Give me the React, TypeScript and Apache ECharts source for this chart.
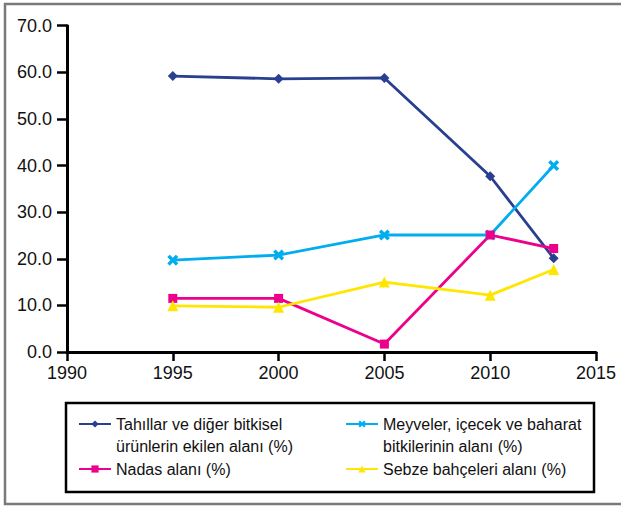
import React, { useEffect, useRef } from "react";
import * as echarts from "echarts";

const years = [1995, 2000, 2005, 2010, 2013];
const tahillar = [59.2, 58.6, 58.8, 37.7, 20.1];
const meyveler = [19.7, 20.8, 25.1, 25.1, 40.0];
const nadas = [11.5, 11.5, 1.7, 25.1, 22.2];
const sebze = [9.9, 9.6, 15.0, 12.2, 17.7];

const names = [
  "Tahıllar ve diğer bitkisel\nürünlerin ekilen alanı (%)",
  "Meyveler, içecek ve baharat\nbitkilerinin alanı (%)",
  "Nadas alanı (%)",
  "Sebze bahçeleri alanı (%)",
];

const FONT = "'Liberation Sans', Arial, sans-serif";
const crossPath =
  "path://M0,2.2L2.2,0L5,2.8L7.8,0L10,2.2L7.2,5L10,7.8L7.8,10L5,7.2L2.2,10L0,7.8L2.8,5Z";

function pair(vals: number[]) {
  return years.map((y, i) => [y, vals[i]]);
}

export default function App() {
  const ref = useRef<HTMLDivElement>(null);
  useEffect(() => {
    document.body.style.margin = "0";
    const chart = echarts.init(ref.current!, null, { renderer: "svg" });
    const legendText = {
      fontFamily: FONT,
      fontSize: 16,
      color: "#111",
      lineHeight: 22,
    };
    const legendBase = {
      orient: "horizontal",
      padding: 0,
      itemWidth: 32,
      itemHeight: 9,
      itemGap: 0,
      selectedMode: false,
      textStyle: legendText,
    };
    // two-line labels: a leading blank line keeps the icon beside the first line
    const twoLine = (n: string) => (n.indexOf("\n") >= 0 ? "\n" + n : n);
    chart.setOption({
      animation: false,
      backgroundColor: "#fff",
      grid: { left: 67, right: 25, top: 25.7, bottom: 154, containLabel: false },
      xAxis: {
        type: "value",
        min: 1990,
        max: 2015,
        interval: 5,
        axisLine: { lineStyle: { color: "#000", width: 3 } },
        axisTick: { show: true, length: 9, lineStyle: { color: "#000", width: 2.5 } },
        splitLine: { show: false },
        axisLabel: {
          fontFamily: FONT,
          fontSize: 18,
          color: "#111",
          margin: 12,
          formatter: (v: number) => String(v),
        },
      },
      yAxis: {
        type: "value",
        min: 0,
        max: 70,
        interval: 10,
        axisLine: { show: true, lineStyle: { color: "#000", width: 3 } },
        axisTick: { show: true, length: 10, lineStyle: { color: "#000", width: 2.5 } },
        splitLine: { show: false },
        axisLabel: {
          fontFamily: FONT,
          fontSize: 18,
          color: "#111",
          margin: 15,
          formatter: (v: number) => v.toFixed(1),
        },
      },
      legend: [
        { ...legendBase, left: 78, top: 391, data: [names[0]], formatter: twoLine },
        { ...legendBase, left: 345, top: 391, data: [names[1]], formatter: twoLine },
        { ...legendBase, left: 78, top: 458, data: [names[2]] },
        { ...legendBase, left: 345, top: 458, data: [names[3]] },
      ],
      graphic: [
        {
          type: "rect",
          shape: { x: 5, y: 4, width: 640, height: 500 },
          style: { fill: "none", stroke: "#7a7a7a", lineWidth: 2.5 },
          silent: true,
        },
        {
          type: "rect",
          shape: { x: 66, y: 403, width: 528, height: 89 },
          style: { fill: "none", stroke: "#000", lineWidth: 2.5 },
          silent: true,
        },
      ],
      series: [
        {
          name: names[0],
          type: "line",
          data: pair(tahillar),
          symbol: "diamond",
          symbolSize: [10, 10],
          lineStyle: { color: "#293F8F", width: 2.8 },
          itemStyle: { color: "#293F8F" },
        },
        {
          name: names[1],
          type: "line",
          data: pair(meyveler),
          symbol: crossPath,
          symbolSize: 11,
          lineStyle: { color: "#00AEEF", width: 2.8 },
          itemStyle: { color: "#00AEEF" },
        },
        {
          name: names[2],
          type: "line",
          data: pair(nadas),
          symbol: "rect",
          symbolSize: 9,
          lineStyle: { color: "#EC008C", width: 2.8 },
          itemStyle: { color: "#EC008C" },
        },
        {
          name: names[3],
          type: "line",
          data: pair(sebze),
          symbol: "triangle",
          symbolSize: 11,
          lineStyle: { color: "#FFE600", width: 2.8 },
          itemStyle: { color: "#FFE600" },
        },
      ],
    });
    return () => chart.dispose();
  }, []);
  return <div ref={ref} style={{ width: 621, height: 506 }} />;
}
